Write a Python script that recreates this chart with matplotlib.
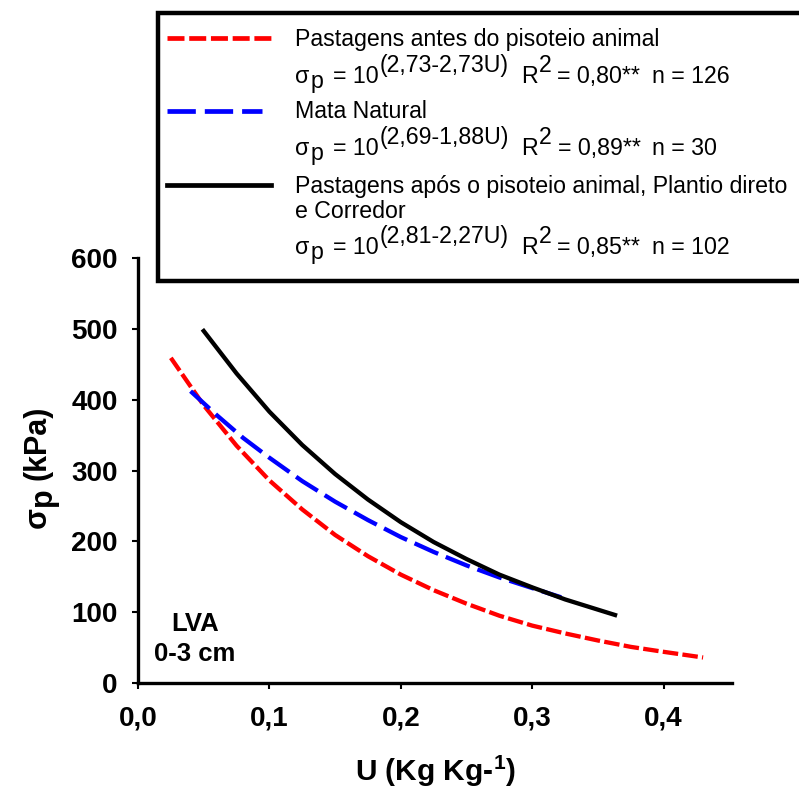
import matplotlib
matplotlib.use('Agg')
import matplotlib.pyplot as plt
from matplotlib.patches import Rectangle
from matplotlib.lines import Line2D

plt.rcParams['font.family'] = ['Liberation Sans', 'DejaVu Sans']
plt.rcParams['mathtext.fontset'] = 'custom'
plt.rcParams['mathtext.rm'] = 'Liberation Sans'
plt.rcParams['mathtext.bf'] = 'Liberation Sans:bold'

# valores
u_pasto_antes = [0.025, 0.05, 0.075, 0.10, 0.125, 0.15, 0.175, 0.20, 0.225,
                 0.25, 0.275, 0.30, 0.325, 0.35, 0.375, 0.40, 0.43]
sp_pasto_antes = [459, 392, 335, 286, 245, 209, 179, 153, 131,
                  112, 95, 81, 70, 60, 51, 44, 36]

u_mata = [0.04, 0.06, 0.08, 0.10, 0.125, 0.15, 0.175, 0.20, 0.225,
          0.25, 0.275, 0.30, 0.322]
sp_mata = [412, 378, 346, 318, 285, 256, 230, 206, 185,
           166, 149, 134, 121]

u_pasto_apos = [0.05, 0.075, 0.10, 0.125, 0.15, 0.175, 0.20, 0.225,
                0.25, 0.275, 0.30, 0.325, 0.363]
sp_pasto_apos = [497, 437, 383, 336, 295, 259, 227, 199,
                 175, 153, 135, 118, 96]

x_ticks = [0.0, 0.1, 0.2, 0.3, 0.4]
x_labels = ['0,0', '0,1', '0,2', '0,3', '0,4']
y_ticks = [0, 100, 200, 300, 400, 500, 600]

W, H = 799, 790
FS = 16.7
fig = plt.figure(figsize=(W / 100, H / 100), dpi=100)
ax = fig.add_axes([138 / W, 1 - 683 / H, 594 / W, 425 / H])

red_dash = (3.6, 1.0)
blue_dash = (6.0, 1.9)
ax.plot(u_pasto_antes, sp_pasto_antes, color='#ff0000', lw=3.1, dashes=red_dash)
ax.plot(u_mata, sp_mata, color='#0000ff', lw=3.1, dashes=blue_dash)
ax.plot(u_pasto_apos, sp_pasto_apos, color='black', lw=3.1)

ax.set_xlim(0, 0.452)
ax.set_ylim(0, 600)
ax.set_xticks(x_ticks)
ax.set_xticklabels(x_labels, fontsize=20, fontweight='bold')
ax.set_yticks(y_ticks)
ax.set_yticklabels([str(v) for v in y_ticks], fontsize=20, fontweight='bold')
ax.tick_params(axis='both', direction='out', length=4, width=1.5)
ax.tick_params(axis='y', pad=10.5)
ax.tick_params(axis='x', pad=12)
for s in ['top', 'right']:
    ax.spines[s].set_visible(False)
for s in ['left', 'bottom']:
    ax.spines[s].set_linewidth(2.4)
ax.set_xlabel(r'U (Kg Kg-$^{\mathbf{1}}$)', fontsize=21.5, fontweight='bold', labelpad=16)

ax.text(0.096, 0.122, 'LVA', transform=ax.transAxes, ha='center', fontsize=18.5,
        fontweight='bold')
ax.text(0.096, 0.051, '0-3 cm', transform=ax.transAxes, ha='center', fontsize=18.5,
        fontweight='bold')

renderer = fig.canvas.get_renderer()


def chain(x0, y0, pieces, size=FS, weight='normal'):
    # escreve pedacos em sequencia (sobrescrito / subscrito como deslocamento)
    pos = x0
    for txt, dy, gap in pieces:
        pos += gap
        t = fig.text(pos / W, 1 - (y0 - dy) / H, txt, fontsize=size,
                     fontweight=weight, ha='left', va='baseline')
        pos = t.get_window_extent(renderer).x1


def chain_up(x0, ybot, pieces, size, weight):
    pos = ybot
    for txt, dx, gap in pieces:
        pos -= gap
        t = fig.text((x0 + dx) / W, 1 - pos / H, txt, fontsize=size,
                     fontweight=weight, ha='left', va='baseline',
                     rotation=90, rotation_mode='anchor')
        pos = H - t.get_window_extent(renderer).y1


chain_up(46, 528, [('σ', 0, 0), ('p', 5, 1), ('(kPa)', 0, 8)], 22, 'bold')

# caixa da legenda
box = Rectangle((158 / W, 1 - 281 / H), (830 - 158) / W, (281 - 12.5) / H,
                transform=fig.transFigure, facecolor='white', edgecolor='black',
                lw=3.2, zorder=5)
fig.add_artist(box)

fig.add_artist(Line2D([167 / W, 271 / W], [1 - 38 / H] * 2, transform=fig.transFigure,
                      color='#ff0000', lw=3.4, dashes=red_dash, zorder=6))
fig.add_artist(Line2D([167 / W, 262 / W], [1 - 111 / H] * 2, transform=fig.transFigure,
                      color='#0000ff', lw=3.4, dashes=blue_dash, zorder=6))
fig.add_artist(Line2D([167 / W, 271 / W], [1 - 185 / H] * 2, transform=fig.transFigure,
                      color='black', lw=3.4, zorder=6))

TX = 295
chain(TX, 46, [('Pastagens antes do pisoteio animal', 0, 0)])
chain(TX, 83, [('σ', 0, 0), ('p', -5, 1), ('= 10', 0, 10), ('(2,73-2,73U)', 11, 1),
               ('R', 0, 12), ('2', 11, 1), ('= 0,80**', 0, 6), ('n = 126', 0, 12)])
chain(TX, 118, [('Mata Natural', 0, 0)])
chain(TX, 155, [('σ', 0, 0), ('p', -5, 1), ('= 10', 0, 10), ('(2,69-1,88U)', 11, 1),
                ('R', 0, 12), ('2', 11, 1), ('= 0,89**', 0, 6), ('n = 30', 0, 12)])
chain(TX, 193, [('Pastagens após o pisoteio animal, Plantio direto', 0, 0)])
chain(TX, 218, [('e Corredor', 0, 0)])
chain(TX, 254, [('σ', 0, 0), ('p', -5, 1), ('= 10', 0, 10), ('(2,81-2,27U)', 11, 1),
                ('R', 0, 12), ('2', 11, 1), ('= 0,85**', 0, 6), ('n = 102', 0, 12)])

for t in fig.texts:
    t.set_zorder(7)

fig.savefig('out.png', dpi=100)
